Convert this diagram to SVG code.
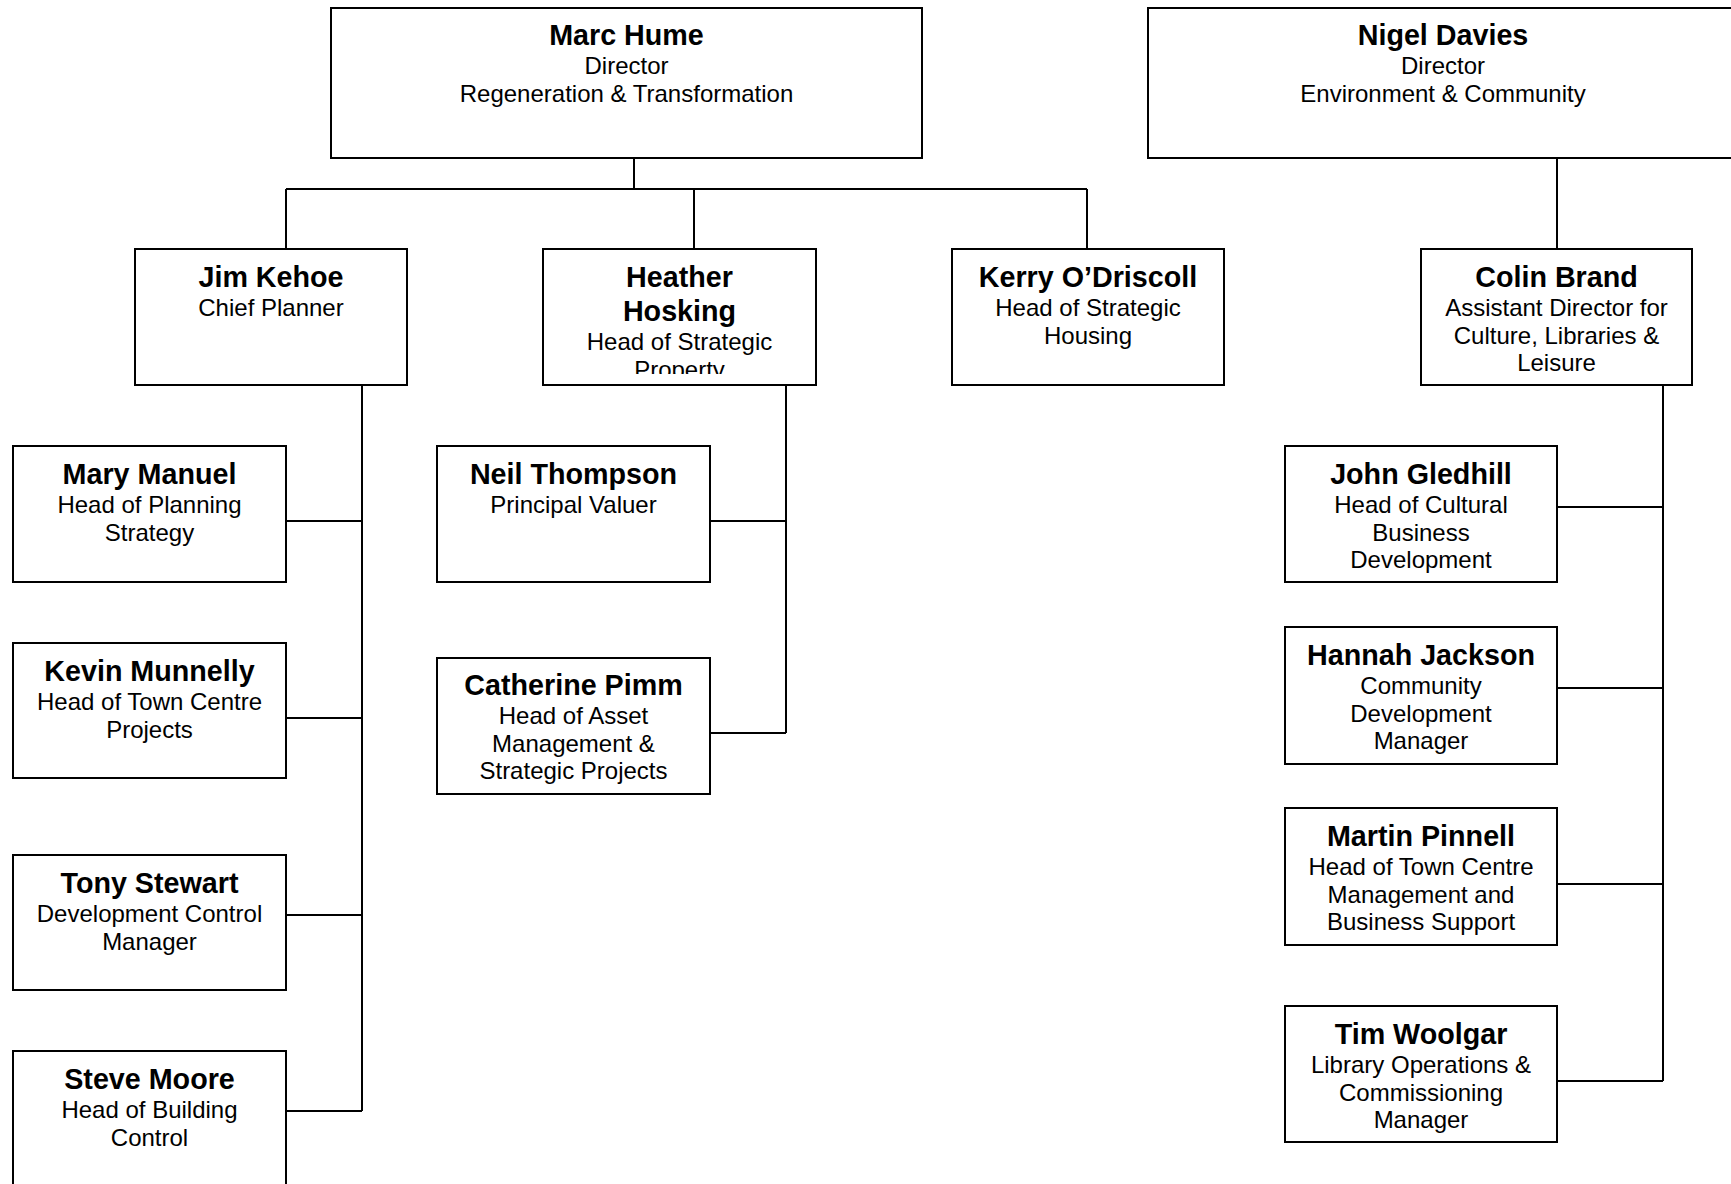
<svg xmlns="http://www.w3.org/2000/svg" width="1731" height="1184" viewBox="0 0 1731 1184">
<style>
.box{fill:#fff;stroke:#000;stroke-width:2}
.ln{fill:none;stroke:#000;stroke-width:2}
text{font-family:"Liberation Sans",Arial,sans-serif;fill:#000;text-anchor:middle}
.nm{font-weight:bold;font-size:28.7px}
.sb{font-size:24px}
</style>
<defs>
<clipPath id="clipHH"><rect x="543" y="249" width="273" height="125"/></clipPath>
</defs>
<rect width="1731" height="1184" fill="#fff"/>
<g id="connectors">
<path class="ln" d="M634 158V189M286 189H1087M286 189V249M694 189V249M1087 189V249"/>
<path class="ln" d="M1557 158V249"/>
<path class="ln" d="M362 385V1111M286 521H362M286 718H362M286 915H362M286 1111H362"/>
<path class="ln" d="M786 385V733M710 521H786M710 733H786"/>
<path class="ln" d="M1663 385V1081M1557 507H1663M1557 688H1663M1557 884H1663M1557 1081H1663"/>
</g>
<g id="marc-hume">
<rect class="box" x="331" y="8" width="591" height="150"/>
<text class="nm" x="626.5" y="45">Marc Hume</text>
<text class="sb" x="626.5" y="74">Director</text>
<text class="sb" x="626.5" y="101.5">Regeneration &amp; Transformation</text>
</g>
<g id="nigel-davies">
<rect class="box" x="1148" y="8" width="595" height="150"/>
<text class="nm" x="1443" y="45">Nigel Davies</text>
<text class="sb" x="1443" y="74">Director</text>
<text class="sb" x="1443" y="101.5">Environment &amp; Community</text>
</g>
<g id="jim-kehoe">
<rect class="box" x="135" y="249" width="272" height="136"/>
<text class="nm" x="271" y="287">Jim Kehoe</text>
<text class="sb" x="271" y="316">Chief Planner</text>
</g>
<g id="heather-hosking">
<rect class="box" x="543" y="249" width="273" height="136"/>
<g clip-path="url(#clipHH)">
<text class="nm" x="679.5" y="287">Heather</text>
<text class="nm" x="679.5" y="321">Hosking</text>
<text class="sb" x="679.5" y="350">Head of Strategic</text>
<text class="sb" x="679.5" y="377.5">Property</text>
</g>
</g>
<g id="kerry-odriscoll">
<rect class="box" x="952" y="249" width="272" height="136"/>
<text class="nm" x="1088" y="287">Kerry O’Driscoll</text>
<text class="sb" x="1088" y="316">Head of Strategic</text>
<text class="sb" x="1088" y="343.5">Housing</text>
</g>
<g id="colin-brand">
<rect class="box" x="1421" y="249" width="271" height="136"/>
<text class="nm" x="1556.5" y="287">Colin Brand</text>
<text class="sb" x="1556.5" y="316">Assistant Director for</text>
<text class="sb" x="1556.5" y="343.5">Culture, Libraries &amp;</text>
<text class="sb" x="1556.5" y="371">Leisure</text>
</g>
<g id="mary-manuel">
<rect class="box" x="13" y="446" width="273" height="136"/>
<text class="nm" x="149.5" y="484">Mary Manuel</text>
<text class="sb" x="149.5" y="513">Head of Planning</text>
<text class="sb" x="149.5" y="540.5">Strategy</text>
</g>
<g id="kevin-munnelly">
<rect class="box" x="13" y="643" width="273" height="135"/>
<text class="nm" x="149.5" y="681">Kevin Munnelly</text>
<text class="sb" x="149.5" y="710">Head of Town Centre</text>
<text class="sb" x="149.5" y="737.5">Projects</text>
</g>
<g id="tony-stewart">
<rect class="box" x="13" y="855" width="273" height="135"/>
<text class="nm" x="149.5" y="893">Tony Stewart</text>
<text class="sb" x="149.5" y="922">Development Control</text>
<text class="sb" x="149.5" y="949.5">Manager</text>
</g>
<g id="steve-moore">
<rect class="box" x="13" y="1051" width="273" height="136"/>
<text class="nm" x="149.5" y="1089">Steve Moore</text>
<text class="sb" x="149.5" y="1118">Head of Building</text>
<text class="sb" x="149.5" y="1145.5">Control</text>
</g>
<g id="neil-thompson">
<rect class="box" x="437" y="446" width="273" height="136"/>
<text class="nm" x="573.5" y="484">Neil Thompson</text>
<text class="sb" x="573.5" y="513">Principal Valuer</text>
</g>
<g id="catherine-pimm">
<rect class="box" x="437" y="658" width="273" height="136"/>
<text class="nm" x="573.5" y="695">Catherine Pimm</text>
<text class="sb" x="573.5" y="724">Head of Asset</text>
<text class="sb" x="573.5" y="751.5">Management &amp;</text>
<text class="sb" x="573.5" y="779">Strategic Projects</text>
</g>
<g id="john-gledhill">
<rect class="box" x="1285" y="446" width="272" height="136"/>
<text class="nm" x="1421" y="484">John Gledhill</text>
<text class="sb" x="1421" y="513">Head of Cultural</text>
<text class="sb" x="1421" y="540.5">Business</text>
<text class="sb" x="1421" y="568">Development</text>
</g>
<g id="hannah-jackson">
<rect class="box" x="1285" y="627" width="272" height="137"/>
<text class="nm" x="1421" y="665">Hannah Jackson</text>
<text class="sb" x="1421" y="694">Community</text>
<text class="sb" x="1421" y="721.5">Development</text>
<text class="sb" x="1421" y="749">Manager</text>
</g>
<g id="martin-pinnell">
<rect class="box" x="1285" y="808" width="272" height="137"/>
<text class="nm" x="1421" y="846">Martin Pinnell</text>
<text class="sb" x="1421" y="875">Head of Town Centre</text>
<text class="sb" x="1421" y="902.5">Management and</text>
<text class="sb" x="1421" y="930">Business Support</text>
</g>
<g id="tim-woolgar">
<rect class="box" x="1285" y="1006" width="272" height="136"/>
<text class="nm" x="1421" y="1044">Tim Woolgar</text>
<text class="sb" x="1421" y="1073">Library Operations &amp;</text>
<text class="sb" x="1421" y="1100.5">Commissioning</text>
<text class="sb" x="1421" y="1128">Manager</text>
</g>
</svg>
